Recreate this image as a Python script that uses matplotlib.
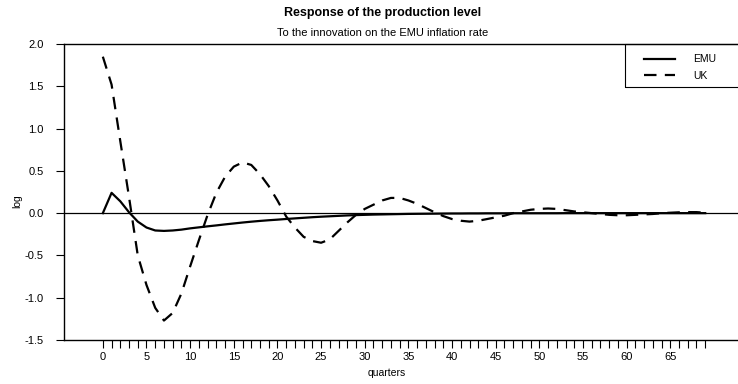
import numpy as np
import matplotlib
matplotlib.use("Agg")
import matplotlib.pyplot as plt
from matplotlib.patches import Rectangle

plt.rcParams["font.family"] = ["Liberation Sans", "DejaVu Sans"]
plt.rcParams["lines.scale_dashes"] = False

quarters = np.arange(70)

# impulse responses, quarters 0..69
emu = [0.0, 0.24, 0.14, 0.01, -0.10, -0.17, -0.205, -0.21, -0.205, -0.195,
       -0.18, -0.168, -0.156, -0.145, -0.133, -0.122, -0.111, -0.101, -0.092, -0.084,
       -0.077, -0.069, -0.062, -0.055, -0.048, -0.042, -0.037, -0.032, -0.027, -0.023,
       -0.020, -0.017, -0.015, -0.013, -0.011, -0.009, -0.008, -0.007, -0.006, -0.005,
       -0.004, -0.004, -0.003, -0.003, -0.002, -0.002, -0.002, -0.001, -0.001, -0.001,
       -0.001, -0.001, -0.001, 0.0, 0.0, 0.0, 0.0, 0.0, 0.0, 0.0,
       0.0, 0.0, 0.0, 0.0, 0.0, 0.0, 0.0, 0.0, 0.0, 0.0]
uk = [1.85, 1.52, 0.85, 0.19, -0.50, -0.85, -1.12, -1.27, -1.18, -0.95,
      -0.63, -0.32, -0.02, 0.24, 0.43, 0.55, 0.60, 0.57, 0.46, 0.32,
      0.15, -0.04, -0.17, -0.28, -0.33, -0.35, -0.31, -0.21, -0.11, -0.02,
      0.05, 0.10, 0.15, 0.18, 0.18, 0.15, 0.11, 0.06, 0.01, -0.035,
      -0.07, -0.09, -0.10, -0.09, -0.07, -0.05, -0.03, 0.0, 0.02, 0.04,
      0.05, 0.055, 0.05, 0.035, 0.02, 0.01, 0.0, -0.01, -0.02, -0.025,
      -0.025, -0.02, -0.015, -0.01, 0.0, 0.005, 0.01, 0.012, 0.012, 0.005]

xticks = np.arange(0, 70, 5)
yticks = [-1.5, -1.0, -0.5, 0.0, 0.5, 1.0, 1.5, 2.0]

W, H = 738, 384
fig = plt.figure(figsize=(W / 100, H / 100), dpi=100)
ax = fig.add_axes([64 / W, 1 - 340 / H, (W - 64) / W + 0.01, 296 / H])

ax.axhline(0, color="black", lw=0.9)
ax.plot(quarters, emu, color="black", lw=1.6, label="EMU")
ax.plot(quarters, uk, color="black", lw=1.6, dashes=(9, 6), label="UK")

ax.set_xlim(-4.45, 73.6)
ax.set_ylim(-1.5, 2.0)
ax.set_xticks(xticks)
ax.set_xticks(quarters, minor=True)
ax.set_yticks(yticks)
ax.set_yticklabels([f"{v:.1f}" for v in yticks])
ax.tick_params(axis="both", which="both", direction="out", length=6, width=0.8,
               labelsize=8, colors="black", pad=3)
ax.tick_params(axis="y", pad=8.5)

ax.spines["right"].set_visible(False)
for s in ("left", "top", "bottom"):
    ax.spines[s].set_linewidth(1.0)

mid = (383 - 64) / (W - 64)
ax.set_xlabel("quarters", fontsize=7.5)
ax.xaxis.set_label_coords(mid, -0.095)
ax.set_ylabel("log", fontsize=7.5)
ax.yaxis.set_label_coords(-0.062, 0.47)

fig.text(383 / W, 1 - 13 / H, "Response of the production level", ha="center",
         va="center", fontsize=9, fontweight="bold")
fig.text(383 / W, 1 - 33 / H, "To the innovation on the EMU inflation rate",
         ha="center", va="center", fontsize=8)

# legend box, open on the right
fig.patches.append(Rectangle((625 / W, 1 - 87 / H), 0.2, 43 / H, transform=fig.transFigure,
                             fill=False, edgecolor="black", lw=0.8))
ax.legend(loc="upper left", bbox_to_anchor=(636 / W, 1 - 46 / H),
          bbox_transform=fig.transFigure, frameon=False, fontsize=7.5,
          handlelength=2.9, handletextpad=1.8, labelspacing=0.65, borderpad=0.3)

fig.savefig("out.png", dpi=100)
